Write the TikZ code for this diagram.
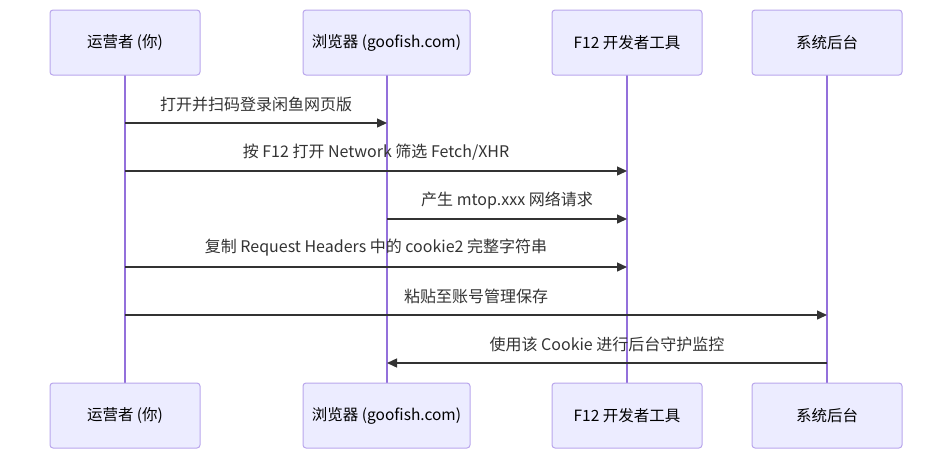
\documentclass[tikz,border=0pt]{standalone}
\usepackage{fontspec}
\setmainfont{Noto Sans CJK SC}
\usetikzlibrary{arrows.meta}
\definecolor{actfill}{HTML}{ECECFF}
\definecolor{actline}{HTML}{B9A6EC}
\definecolor{lifeline}{HTML}{9370DB}
\definecolor{msgcol}{HTML}{333333}
\begin{document}
\begin{tikzpicture}[x=1pt,y=-1pt,
  actor/.style={draw=actline,fill=actfill,rounded corners=3pt,line width=1pt,minimum height=65pt,text=black,font=\fontsize{15.5}{18}\selectfont},
  life/.style={draw=lifeline,line width=1.3pt},
  msg/.style={draw=msgcol,line width=1.4pt,-{Triangle[length=10pt,width=9pt]}},
  lab/.style={text=msgcol,font=\fontsize{16}{18}\selectfont,inner sep=0pt}]
\useasboundingbox (0,0) rectangle (952,459);
% lifelines
\coordinate (l1t) at (125,75); \coordinate (l1b) at (125,383);
\coordinate (l2t) at (387,75); \coordinate (l2b) at (387,383);
\coordinate (l3t) at (627,75); \coordinate (l3b) at (627,383);
\coordinate (l4t) at (827,75); \coordinate (l4b) at (827,383);
\draw[life] (l1t) -- (l1b);
\draw[life] (l2t) -- (l2b);
\draw[life] (l3t) -- (l3b);
\draw[life] (l4t) -- (l4b);
% actors
\node[actor,minimum width=150pt] (a1) at (125,42.5) {运营者 (你)};
\node[actor,minimum width=167pt] (a2) at (386.5,42.5) {浏览器 (goofish.com)};
\node[actor,minimum width=150pt] (a3) at (627,42.5) {F12 开发者工具};
\node[actor,minimum width=150pt] (a4) at (827,42.5) {系统后台};
\node[actor,minimum width=150pt] (b1) at (125,415.5) {运营者 (你)};
\node[actor,minimum width=167pt] (b2) at (386.5,415.5) {浏览器 (goofish.com)};
\node[actor,minimum width=150pt] (b3) at (627,415.5) {F12 开发者工具};
\node[actor,minimum width=150pt] (b4) at (827,415.5) {系统后台};
% message anchors
\coordinate (m1s) at (125,123); \coordinate (m1e) at (387,123);
\coordinate (m2s) at (125,171); \coordinate (m2e) at (627,171);
\coordinate (m3s) at (387,219); \coordinate (m3e) at (627,219);
\coordinate (m4s) at (125,267); \coordinate (m4e) at (627,267);
\coordinate (m5s) at (125,315); \coordinate (m5e) at (827,315);
\coordinate (m6s) at (827,363); \coordinate (m6e) at (387,363);
\draw[msg] (m1s) -- (m1e);
\draw[msg] (m2s) -- (m2e);
\draw[msg] (m3s) -- (m3e);
\draw[msg] (m4s) -- (m4e);
\draw[msg] (m5s) -- (m5e);
\draw[msg] (m6s) -- (m6e);
\node[lab] (t1) at (256,104) {打开并扫码登录闲鱼网页版};
\node[lab] (t2) at (376,152) {按 F12 打开 Network 筛选 Fetch/XHR};
\node[lab] (t3) at (507,200) {产生 mtop.xxx 网络请求};
\node[lab] (t4) at (376,248) {复制 Request Headers 中的 cookie2 完整字符串};
\node[lab] (t5) at (476,296) {粘贴至账号管理保存};
\node[lab] (t6) at (607,344) {使用该 Cookie 进行后台守护监控};
\end{tikzpicture}
\end{document}
